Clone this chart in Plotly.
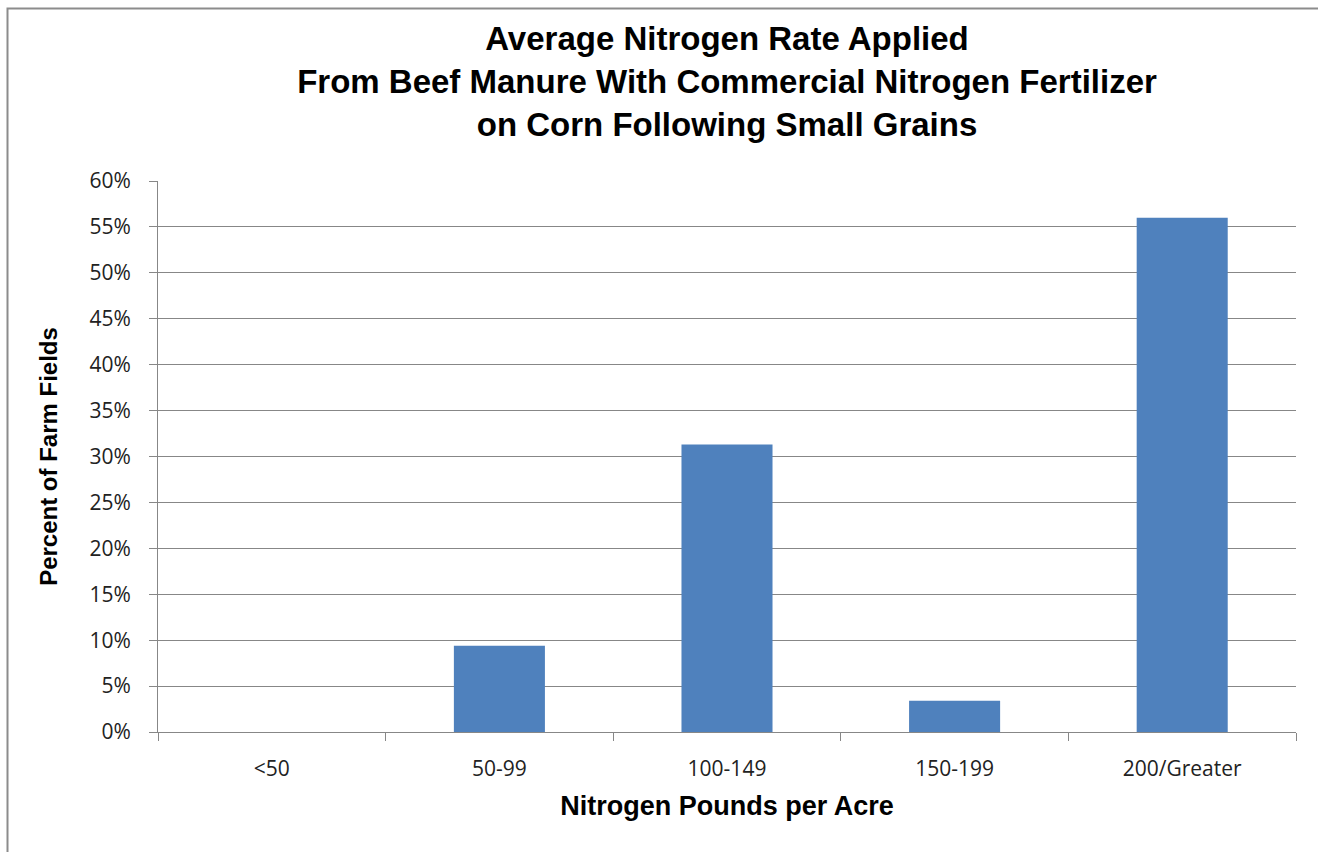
import plotly.graph_objects as go

categories = ["<50", "50-99", "100-149", "150-199", "200/Greater"]
percent_fields = [0.0, 9.4, 31.3, 3.4, 56.0]
y_ticks = [0, 5, 10, 15, 20, 25, 30, 35, 40, 45, 50, 55, 60]

W, H = 1318, 852
L, R, T, B = 158, 22, 181, 120
pw, ph = W - L - R, H - T - B


def px_x(x):
    return (x - L) / pw


def px_y(y):
    return 1 - (y - T) / ph


fig = go.Figure(
    go.Bar(
        x=categories,
        y=percent_fields,
        marker=dict(color="#4F81BD", line=dict(width=0)),
        hoverinfo="x+y",
    )
)

grid = "#878787"
tick_font = dict(family="Open Sans", size=21, color="#222222")
fig.update_layout(
    width=W,
    height=H,
    margin=dict(l=L, r=R, t=T, b=B),
    paper_bgcolor="white",
    plot_bgcolor="white",
    bargap=0.6,
    showlegend=False,
    title=dict(
        text="Average Nitrogen Rate Applied<br>From Beef Manure With Commercial Nitrogen Fertilizer<br>on Corn Following Small Grains",
        font=dict(family="Liberation Sans", size=33, color="black", weight="bold"),
        xref="paper",
        x=0.5,
        xanchor="center",
        y=1 - 50 / H,
        yanchor="middle",
    ),
    xaxis=dict(
        type="category",
        tickson="boundaries",
        ticks="outside",
        ticklen=8,
        tickcolor=grid,
        showline=True,
        linecolor=grid,
        linewidth=1,
        showgrid=False,
        tickfont=tick_font,
        ticklabelstandoff=18,
        title=dict(
            text="Nitrogen Pounds per Acre",
            font=dict(family="Liberation Sans", size=27, color="black", weight="bold"),
            standoff=14,
        ),
    ),
    yaxis=dict(
        range=[0, 60],
        tickvals=y_ticks,
        ticktext=[f"{v}%" for v in y_ticks],
        ticks="outside",
        ticklen=8,
        tickcolor=grid,
        showline=True,
        linecolor=grid,
        linewidth=1,
        showgrid=True,
        gridcolor=grid,
        gridwidth=1,
        zeroline=False,
        tickfont=tick_font,
        ticklabelstandoff=14,
        title=dict(
            text="Percent of Farm Fields",
            font=dict(family="Liberation Sans", size=24, color="black", weight="bold"),
            standoff=25,
        ),
    ),
    shapes=[
        dict(
            type="path",
            xref="paper",
            yref="paper",
            path=f"M {px_x(7.5)} {px_y(H + 20)} L {px_x(7.5)} {px_y(8.5)} L {px_x(W)} {px_y(8.5)}",
            line=dict(color="#8C8C8C", width=2),
        )
    ],
)

fig.write_html("out.html")
